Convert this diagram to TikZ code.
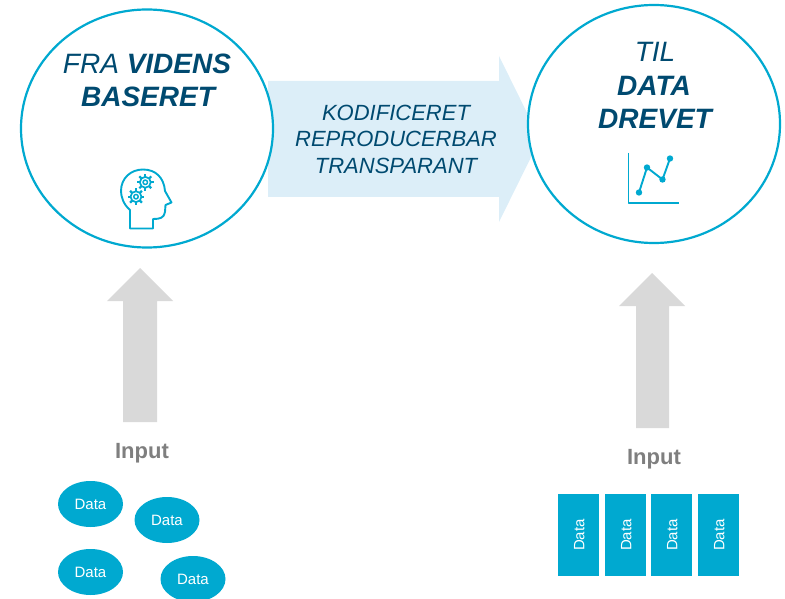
\documentclass[tikz,border=0pt]{standalone}
\usepackage{fontspec}
\setmainfont{Liberation Sans}
\usetikzlibrary{shapes.geometric,calc}
\definecolor{cblue}{HTML}{00A9D0}
\definecolor{cdark}{HTML}{004A70}
\definecolor{clight}{HTML}{DCEEF8}
\definecolor{cgray}{HTML}{D9D9D9}
\definecolor{ctext}{HTML}{7F7F7F}
\tikzset{
  bigcircle/.style={ellipse,draw=cblue,line width=2.2pt,fill=white,minimum width=252pt,minimum height=238pt,inner sep=0pt},
  headtext/.style={text=cdark,font=\fontsize{28}{28}\selectfont\itshape,inner sep=0pt,anchor=center},
  midtext/.style={text=cdark,font=\fontsize{22}{22}\selectfont\itshape,inner sep=0pt,anchor=center},
  inputtext/.style={text=ctext,font=\fontsize{22}{22}\selectfont\bfseries,inner sep=0pt,anchor=center},
  dataell/.style={ellipse,fill=cblue,text=white,minimum width=65pt,minimum height=46pt,inner sep=0pt,font=\fontsize{15}{15}\selectfont},
  datarect/.style={fill=cblue,text=white,minimum width=41pt,minimum height=82pt,inner sep=0pt,font=\fontsize{15}{15}\selectfont},
  icon/.style={draw=cblue,line width=1.9pt,line join=round,line cap=round},
  graybar/.style={fill=cgray,draw=none}
}
\newcommand{\gearicon}[3]{%
  \draw[icon,line width=1.7pt] (#1,#2) circle (#3*0.68);
  \draw[icon,line width=1.5pt] (#1,#2) circle (#3*0.28);
  \foreach \a in {0,45,...,315}{
    \draw[draw=cblue,line width=2.2pt,line cap=butt] ($(#1,#2)+(\a:#3*0.68)$) -- ($(#1,#2)+(\a:#3*1.05)$);
  }
}
\begin{document}
\begin{tikzpicture}[x=1pt,y=-1pt]
\useasboundingbox (0,0) rectangle (785,599);
% large arrow
\fill[clight] (268,81) -- (499,81) -- (499,56) -- (540,139) -- (499,222) -- (499,197) -- (268,197) -- cycle;
% circles
\node[bigcircle] (left) at (147,128.5) {};
\node[bigcircle] (right) at (654,124) {};
% heading texts
\node[headtext] (fra) at (147,64) {FRA \textbf{VIDENS}};
\node[headtext] (baseret) at (148,97) {\textbf{BASERET}};
\node[headtext] (til) at (655,52) {TIL};
\node[headtext] (data) at (654,86) {\textbf{DATA}};
\node[headtext] (drevet) at (655,119) {\textbf{DREVET}};
\node[midtext] (kod) at (396,113) {KODIFICERET};
\node[midtext] (rep) at (396,139) {REPRODUCERBAR};
\node[midtext] (tra) at (396,166) {TRANSPARANT};
% head icon
\draw[icon] (130,228.5) -- (130,210) .. controls (123,204) and (121,196) .. (121,191)
  .. controls (121,178) and (131,169.5) .. (143,169.5)
  .. controls (156,169.5) and (164,178) .. (165,191)
  -- (171.5,202.5) -- (165.5,205) -- (165,212) .. controls (164,218) and (160,219) .. (153,219)
  -- (153,228.5) -- cycle;
\gearicon{145.3}{182.3}{8}
\gearicon{136}{196.7}{8}
% chart icon
\draw[icon,line cap=butt] (628.5,153) -- (628.5,203) -- (679,203);
\draw[icon] (639,192.5) -- (647,167.5) -- (662.5,179.5) -- (670,158.5);
\foreach \p in {(639,192.5),(647,167.5),(662.5,179.5),(670,158.5)} \fill[cblue] \p circle (3.2);
% gray arrows
\fill[graybar] (123,422) -- (123,301) -- (107,301) -- (140,268) -- (173,301) -- (157,301) -- (157,422) -- cycle;
\fill[graybar] (636,428) -- (636,306) -- (619,306) -- (652,273) -- (685,306) -- (669,306) -- (669,428) -- cycle;
% inputs
\node[inputtext] (in1) at (142,453) {Input};
\node[inputtext] (in2) at (654,459) {Input};
% data ellipses
\node[dataell] (e1) at (90.5,504) {Data};
\node[dataell] (e2) at (167,520) {Data};
\node[dataell] (e3) at (90.5,572) {Data};
\node[dataell] (e4) at (193,579) {Data};
% data rectangles
\node[datarect] (r1) at (578.5,535) {\hspace{1.5pt}\rotatebox{90}{Data}};
\node[datarect] (r2) at (625.5,535) {\hspace{1.5pt}\rotatebox{90}{Data}};
\node[datarect] (r3) at (671.5,535) {\hspace{1.5pt}\rotatebox{90}{Data}};
\node[datarect] (r4) at (718.5,535) {\hspace{1.5pt}\rotatebox{90}{Data}};
\end{tikzpicture}
\end{document}
